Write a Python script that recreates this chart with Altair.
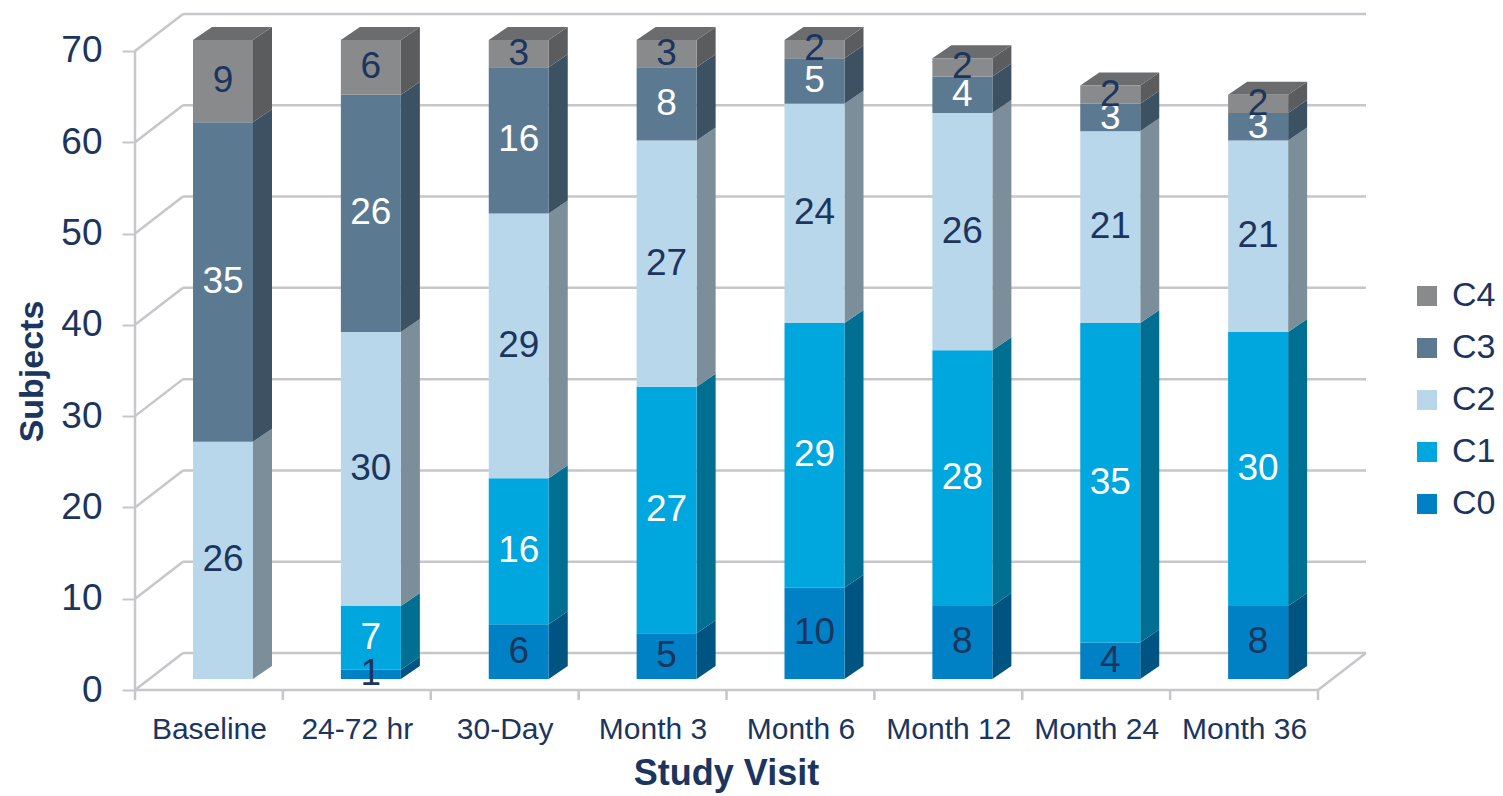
import json
import altair as alt
import pandas as pd

# ---------------- data ----------------
categories = ["Baseline", "24-72 hr", "30-Day", "Month 3", "Month 6",
              "Month 12", "Month 24", "Month 36"]
classes = ["C0", "C1", "C2", "C3", "C4"]
c0 = [0, 1, 6, 5, 10, 8, 4, 8]
c1 = [0, 7, 16, 27, 29, 28, 35, 30]
c2 = [26, 30, 29, 27, 24, 26, 21, 21]
c3 = [35, 26, 16, 8, 5, 4, 3, 3]
c4 = [9, 6, 3, 3, 2, 2, 2, 2]
y_ticks = [0, 10, 20, 30, 40, 50, 60, 70]

front_colors = ["#0081c5", "#00a7de", "#b8d7ea", "#5b7a91", "#898a8c"]
side_colors = ["#005482", "#006f92", "#7b8e99", "#3c5263", "#5b5c5e"]
top_colors = ["#005f90", "#0089b5", "#9fb8c7", "#4a6576", "#6b6c6e"]
text_colors = ["#1c355e", "#ffffff", "#1c355e", "#ffffff", "#1c355e"]
NAVY = "#1c355e"
GRID = "#c6c6cb"

# ---------------- geometry (pixel styling -> data units) ----------------
LEFT, TOP = 135, 8
PLOT_W, PLOT_H = 1240, 682
PX_X = 147.875          # px per category slot
PX_Y = 9.129            # px per subject
XMAX = PLOT_W / PX_X
YMAX = PLOT_H / PX_Y

BACK_DX, BACK_DY = 48 / PX_X, 37 / PX_Y       # depth of the back wall
BAR_L, BAR_W = 58 / PX_X, 60 / PX_X            # bar front face within slot
BAR_DY = 11 / PX_Y                              # bar front plane lift
SIDE_DX, SIDE_DY = 19 / PX_X, 13 / PX_Y         # bar depth
NCAT = len(categories)

series = [c0, c1, c2, c3, c4]

# ---------------- build face tables ----------------
front, side, top, labels = [], [], [], []
for i, cat in enumerate(categories):
    base = 0
    vals = [s[i] for s in series]
    last_k = max(k for k in range(5) if vals[k] > 0)
    for k, v in enumerate(vals):
        if v <= 0:
            continue
        lo, hi = base, base + v
        base = hi
        xl = i + BAR_L
        xr = xl + BAR_W
        ylo, yhi = lo + BAR_DY, hi + BAR_DY
        seg = f"{i}-{k}"
        front.append(dict(x=xl, x2=xr, y=ylo, y2=yhi, cls=classes[k]))
        side.append(dict(x=xr, y=ylo, y2=yhi, seg=seg, col=side_colors[k]))
        side.append(dict(x=xr + SIDE_DX, y=ylo + SIDE_DY, y2=yhi + SIDE_DY,
                         seg=seg, col=side_colors[k]))
        if k == last_k:
            top.append(dict(y=yhi, x=xl, x2=xr, seg=seg, col=top_colors[k]))
            top.append(dict(y=yhi + SIDE_DY, x=xl + SIDE_DX, x2=xr + SIDE_DX,
                            seg=seg, col=top_colors[k]))
        labels.append(dict(x=xl + BAR_W / 2, y=(ylo + yhi) / 2,
                           label=str(v), tcol=text_colors[k]))

rules = []
for v in y_ticks:
    # back wall gridline
    rules.append(dict(x=BACK_DX, x2=NCAT + BACK_DX, y=v + BACK_DY, y2=v + BACK_DY))
    # left wall diagonal
    rules.append(dict(x=0, x2=BACK_DX, y=v, y2=v + BACK_DY))
# floor front edge, floor right diagonal, y axis line
rules.append(dict(x=0, x2=NCAT, y=0, y2=0))
rules.append(dict(x=NCAT, x2=NCAT + BACK_DX, y=0, y2=BACK_DY))
rules.append(dict(x=0, x2=0, y=0, y2=y_ticks[-1]))
# category boundary ticks
for i in range(NCAT + 1):
    rules.append(dict(x=i, x2=i, y=0, y2=-10 / PX_Y))

front_df = pd.DataFrame(front)
side_df = pd.DataFrame(side)
top_df = pd.DataFrame(top)
label_df = pd.DataFrame(labels)
rules_df = pd.DataFrame(rules)

FONT = "Liberation Sans, Arial, sans-serif"
label_expr = json.dumps(categories) + "[floor(datum.value)]"

xscale = alt.Scale(domain=[0, XMAX], nice=False, zero=False)
yscale = alt.Scale(domain=[0, YMAX], nice=False, zero=False)
xaxis = alt.Axis(values=[i + 0.5 for i in range(NCAT)], labelExpr=label_expr,
                 ticks=False, domain=False, grid=False, labelFontSize=30,
                 labelColor=NAVY, labelFont=FONT, labelPadding=24,
                 title="Study Visit", titleFont=FONT, titleFontSize=36,
                 titleFontWeight="bold", titleColor=NAVY,
                 titleX=726 - LEFT, titleY=773 - (TOP + PLOT_H),
                 titleAlign="center", titleBaseline="middle")
yaxis = alt.Axis(values=y_ticks, domain=False, grid=False, ticks=True,
                 tickSize=13, tickColor=GRID, tickWidth=2, labelFontSize=37,
                 labelColor=NAVY, labelFont=FONT, labelPadding=20,
                 title="Subjects", titleFont=FONT, titleFontSize=34,
                 titleFontWeight="bold", titleColor=NAVY,
                 titleX=32 - LEFT, titleY=371 - TOP, titleAngle=-90,
                 titleAlign="center", titleBaseline="middle")

X = alt.X("x:Q", scale=xscale, axis=xaxis)
Y = alt.Y("y:Q", scale=yscale, axis=yaxis, stack=None)

grid_layer = alt.Chart(rules_df).mark_rule(color=GRID, strokeWidth=2.5).encode(
    x=X, x2="x2:Q", y=Y, y2="y2:Q")

side_layer = alt.Chart(side_df).mark_area(orient="vertical").encode(
    x=X, y=Y, y2="y2:Q", detail="seg:N",
    color=alt.Color("col:N", scale=None))

top_layer = alt.Chart(top_df).mark_area(orient="horizontal").encode(
    y=Y, x=alt.X("x:Q", scale=xscale, axis=xaxis, stack=None), x2="x2:Q",
    detail="seg:N", color=alt.Color("col:N", scale=None))

front_layer = alt.Chart(front_df).mark_rect().encode(
    x=X, x2="x2:Q", y=Y, y2="y2:Q",
    color=alt.Color("cls:N",
                    scale=alt.Scale(domain=classes[::-1], range=front_colors[::-1]),
                    legend=alt.Legend(title=None, orient="none",
                                      legendX=1410 - LEFT, legendY=279 - TOP,
                                      padding=0,
                                      symbolType="square", symbolSize=400,
                                      symbolStrokeWidth=0, labelFontSize=34,
                                      labelFont=FONT, labelColor=NAVY,
                                      labelOffset=8, rowPadding=18)))

text_layer = alt.Chart(label_df).mark_text(
    font=FONT, fontSize=37, baseline="middle", align="center").encode(
    x=X, y=Y, text="label:N", color=alt.Color("tcol:N", scale=None))

chart = alt.layer(grid_layer, side_layer, top_layer, front_layer, text_layer).resolve_scale(
    color="independent"
).properties(
    width=PLOT_W, height=PLOT_H,
    autosize=alt.AutoSizeParams(type="none"),
    padding={"left": LEFT, "top": TOP, "right": 1503 - LEFT - PLOT_W,
             "bottom": 796 - TOP - PLOT_H},
    background="white",
).configure_view(stroke=None)

chart.save("out.html", embed_options={"renderer": "svg", "actions": False})
